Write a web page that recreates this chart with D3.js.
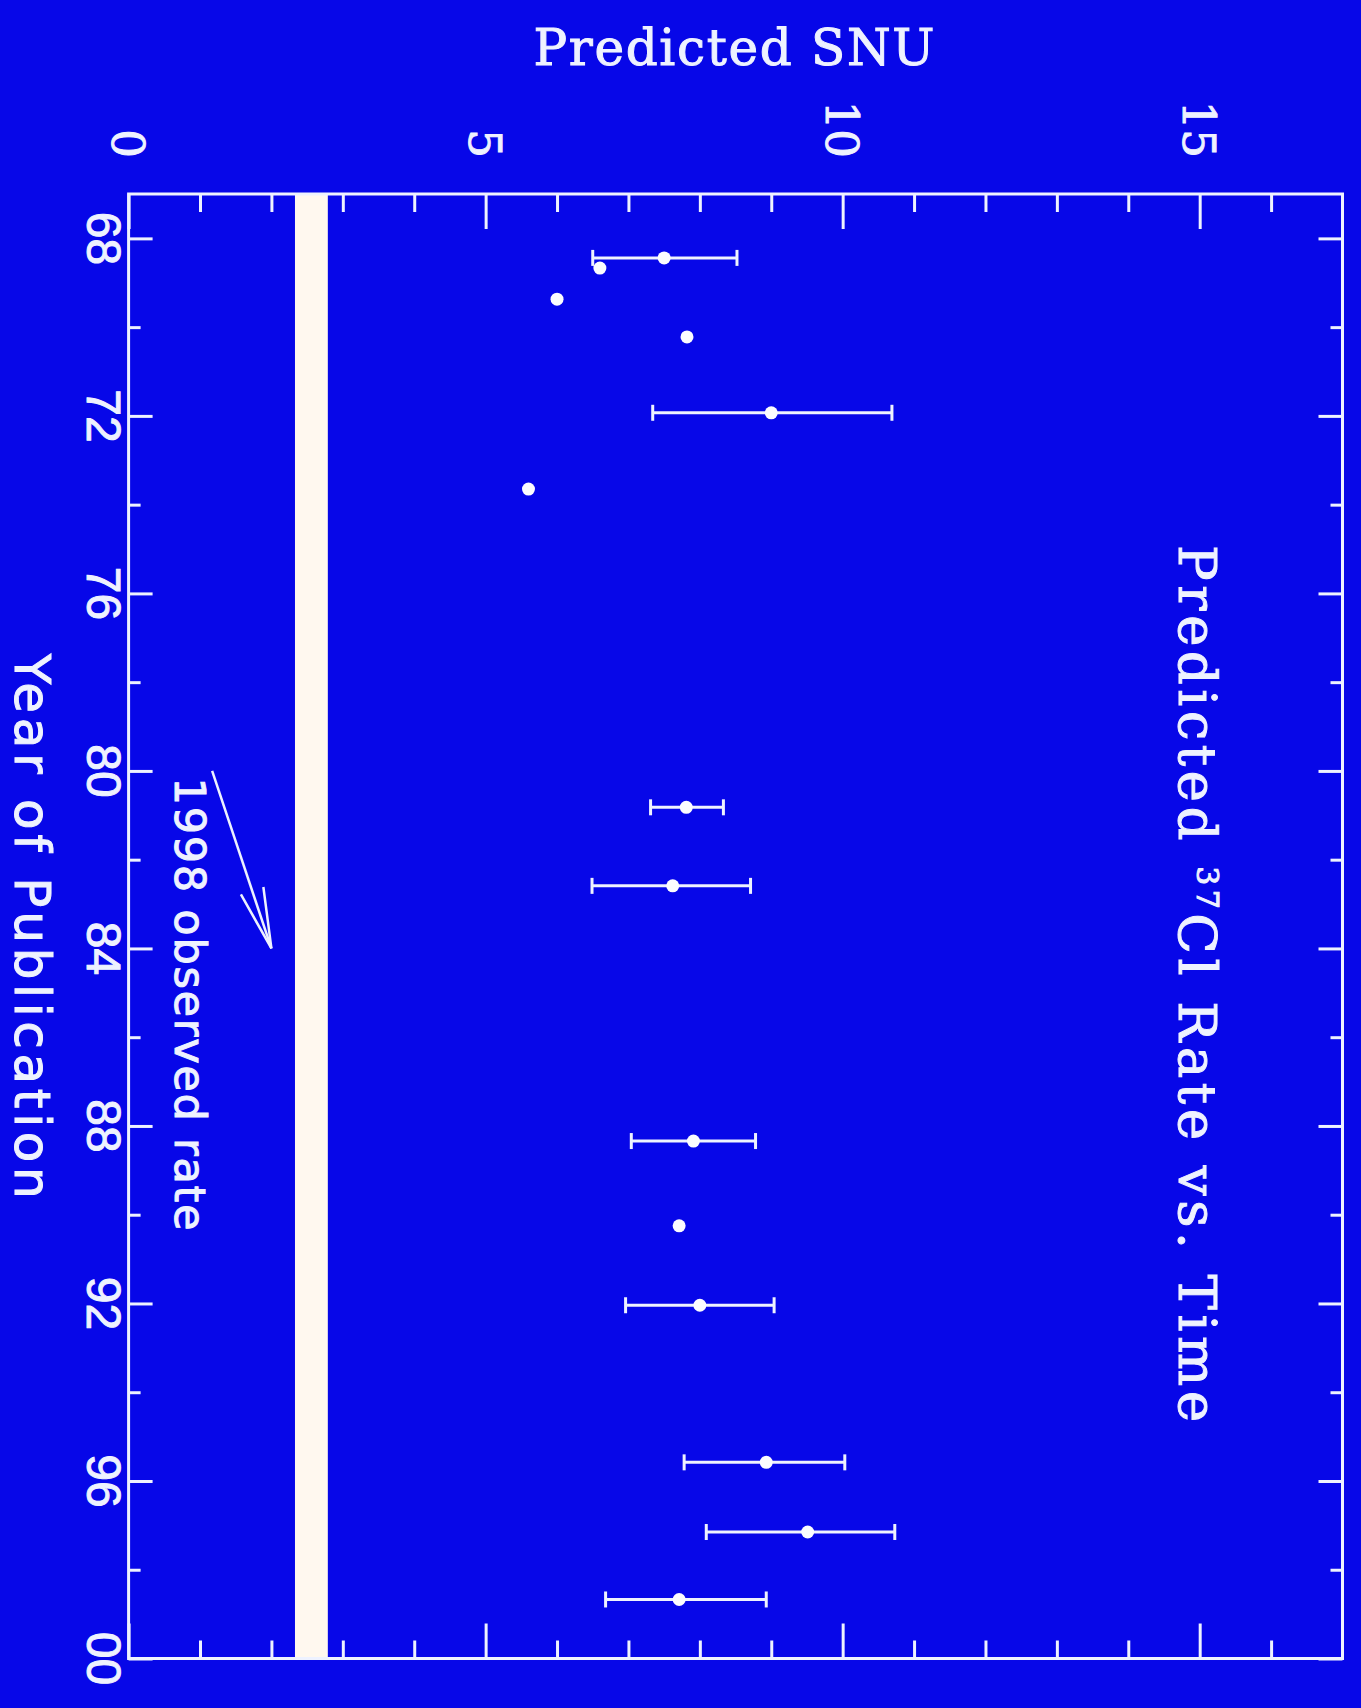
<!DOCTYPE html>
<html>
<head>
<meta charset="utf-8">
<script src="https://cdn.jsdelivr.net/npm/d3@7"></script>
<style>
  body { margin: 0; background: #0707e8; }
  svg { display: block; }
  text { stroke: #eef2ff; stroke-width: 1px; }
</style>
</head>
<body>
<div id="chart"></div>
<script>
// chart values
const pubYear  = [68.44, 68.67, 69.37, 70.22, 71.93, 73.65, 80.82, 82.59, 88.34, 90.25, 92.04, 95.58, 97.15, 98.67];
const snu      = [7.50, 6.60, 6.00, 7.82, 9.00, 5.60, 7.81, 7.62, 7.91, 7.71, 8.00, 8.93, 9.51, 7.71];
const errLow   = [6.50, null, null, null, 7.34, null, 7.31, 6.49, 7.04, null, 6.96, 7.78, 8.09, 6.68];
const errHigh  = [8.52, null, null, null, 10.69, null, 8.33, 8.71, 8.78, null, 9.04, 10.03, 10.73, 8.93];

const observedRate = 2.56;
const observedErr = 0.23;

const snuMajor = [0, 5, 10, 15];
const snuMinor = [1, 2, 3, 4, 6, 7, 8, 9, 11, 12, 13, 14, 16];
const yearMajor = [68, 72, 76, 80, 84, 88, 92, 96, 100];
const yearLabels = ["68", "72", "76", "80", "84", "88", "92", "96", "00"];
const yearMinor = [70, 74, 78, 82, 86, 90, 94, 98];

const W = 1361, H = 1708;
const fg = "#eef2ff";

const svg = d3.select("#chart").append("svg")
    .attr("width", W)
    .attr("height", H);

svg.append("rect").attr("width", W).attr("height", H).attr("fill", "#0707e8");

// plot frame (the chart is turned 90 degrees: SNU runs left->right, year top->bottom)
const frame = { left: 128.6, right: 1342.5, top: 194, bottom: 1658.5 };

const x = d3.scaleLinear().domain([0, 17]).range([frame.left, frame.right]);
const y = d3.scaleLinear().domain([67, 100]).range([frame.top, frame.bottom]);

// observed rate band
svg.append("rect")
    .attr("x", x(observedRate - observedErr))
    .attr("y", frame.top)
    .attr("width", x(observedRate + observedErr) - x(observedRate - observedErr))
    .attr("height", frame.bottom - frame.top)
    .attr("fill", "#fff8ef");

// ticks via d3 axes, pointing inward
function ticks(axis, vals, size, transform) {
    const g = svg.append("g")
        .attr("transform", transform)
        .call(axis.tickValues(vals).tickSizeInner(size).tickSizeOuter(0).tickFormat(""));
    g.select(".domain").remove();
    g.selectAll("line").attr("stroke", fg).attr("stroke-width", 3);
}
ticks(d3.axisTop(x), snuMajor, -35, `translate(0,${frame.top})`);
ticks(d3.axisTop(x), snuMinor, -18, `translate(0,${frame.top})`);
ticks(d3.axisBottom(x), snuMajor, -35, `translate(0,${frame.bottom})`);
ticks(d3.axisBottom(x), snuMinor, -18, `translate(0,${frame.bottom})`);
ticks(d3.axisLeft(y), yearMajor, -24, `translate(${frame.left},0)`);
ticks(d3.axisLeft(y), yearMinor, -12, `translate(${frame.left},0)`);
ticks(d3.axisRight(y), yearMajor, -24, `translate(${frame.right},0)`);
ticks(d3.axisRight(y), yearMinor, -12, `translate(${frame.right},0)`);

svg.append("rect")
    .attr("x", frame.left).attr("y", frame.top)
    .attr("width", frame.right - frame.left)
    .attr("height", frame.bottom - frame.top)
    .attr("fill", "none")
    .attr("stroke", fg)
    .attr("stroke-width", 3);

// SNU tick labels (rotated, serif)
svg.append("g").selectAll("text")
    .data(snuMajor)
    .enter().append("text")
    .attr("transform", d => `translate(${x(d)},158) rotate(90)`)
    .attr("text-anchor", "end")
    .attr("dy", "0.36em")
    .attr("font-family", "'DejaVu Serif', serif")
    .attr("font-size", 45)
    .attr("fill", fg)
    .text(d => d);

// year tick labels (rotated, sans)
svg.append("g").selectAll("text")
    .data(yearMajor)
    .enter().append("text")
    .attr("transform", d => `translate(87,${y(d)}) rotate(90)`)
    .attr("text-anchor", "middle")
    .attr("font-family", "'Liberation Sans', Arial, sans-serif")
    .attr("font-size", 48)
    .attr("fill", fg)
    .text((d, i) => yearLabels[i]);

// axis titles
svg.append("text")
    .attr("x", 734).attr("y", 65)
    .attr("text-anchor", "middle")
    .attr("font-family", "'DejaVu Serif', serif")
    .attr("font-size", 50)
    .attr("textLength", 401)
    .attr("lengthAdjust", "spacing")
    .attr("fill", fg)
    .text("Predicted SNU");

svg.append("text")
    .attr("transform", `translate(15,${(frame.top + frame.bottom) / 2}) rotate(90)`)
    .attr("text-anchor", "middle")
    .attr("font-family", "'DejaVu Sans', sans-serif")
    .attr("font-size", 50)
    .attr("textLength", 545)
    .attr("lengthAdjust", "spacing")
    .attr("fill", fg)
    .text("Year of Publication");

// chart title inside the plot
const title = svg.append("text")
    .attr("transform", "translate(1179,545) rotate(90)")
    .attr("font-family", "'DejaVu Serif', serif")
    .attr("font-size", 53)
    .attr("textLength", 877)
    .attr("lengthAdjust", "spacing")
    .attr("fill", fg);
title.append("tspan").text("Predicted ");
title.append("tspan").attr("font-size", 30).attr("dy", -18).text("37");
title.append("tspan").attr("dy", 18).text("Cl Rate vs. Time");

// observed rate annotation
svg.append("text")
    .attr("transform", `translate(${x(0.65)},${y(80.15)}) rotate(90)`)
    .attr("font-family", "'DejaVu Sans', sans-serif")
    .attr("font-size", 43)
    .attr("textLength", 453)
    .attr("lengthAdjust", "spacing")
    .attr("fill", fg)
    .text("1998 observed rate");

const a0 = [x(1.17), y(80.0)], a1 = [x(2.0), y(84.0)];
const ang = Math.atan2(a0[1] - a1[1], a0[0] - a1[0]);
const headLen = 62, spread = 11 * Math.PI / 180;
const arrow = svg.append("g").attr("stroke", fg).attr("stroke-width", 2.5).attr("fill", "none");
arrow.append("line").attr("x1", a0[0]).attr("y1", a0[1]).attr("x2", a1[0]).attr("y2", a1[1]);
arrow.append("path").attr("d",
    `M${a1[0] + headLen * Math.cos(ang - spread)},${a1[1] + headLen * Math.sin(ang - spread)}` +
    `L${a1[0]},${a1[1]}` +
    `L${a1[0] + headLen * Math.cos(ang + spread)},${a1[1] + headLen * Math.sin(ang + spread)}`);

// points with error bars
const pts = pubYear.map((yr, i) => ({ yr: yr, v: snu[i], lo: errLow[i], hi: errHigh[i] }));
const bars = pts.filter(d => d.lo != null);
const eb = svg.append("g").attr("stroke", fg).attr("stroke-width", 3);
eb.selectAll(".bar").data(bars).enter().append("line")
    .attr("x1", d => x(d.lo)).attr("x2", d => x(d.hi))
    .attr("y1", d => y(d.yr)).attr("y2", d => y(d.yr));
eb.selectAll(".capl").data(bars).enter().append("line")
    .attr("x1", d => x(d.lo)).attr("x2", d => x(d.lo))
    .attr("y1", d => y(d.yr) - 8).attr("y2", d => y(d.yr) + 8);
eb.selectAll(".caph").data(bars).enter().append("line")
    .attr("x1", d => x(d.hi)).attr("x2", d => x(d.hi))
    .attr("y1", d => y(d.yr) - 8).attr("y2", d => y(d.yr) + 8);

svg.append("g").selectAll("circle")
    .data(pts)
    .enter().append("circle")
    .attr("cx", d => x(d.v))
    .attr("cy", d => y(d.yr))
    .attr("r", 6.5)
    .attr("fill", "#fbfcff");
</script>
</body>
</html>
